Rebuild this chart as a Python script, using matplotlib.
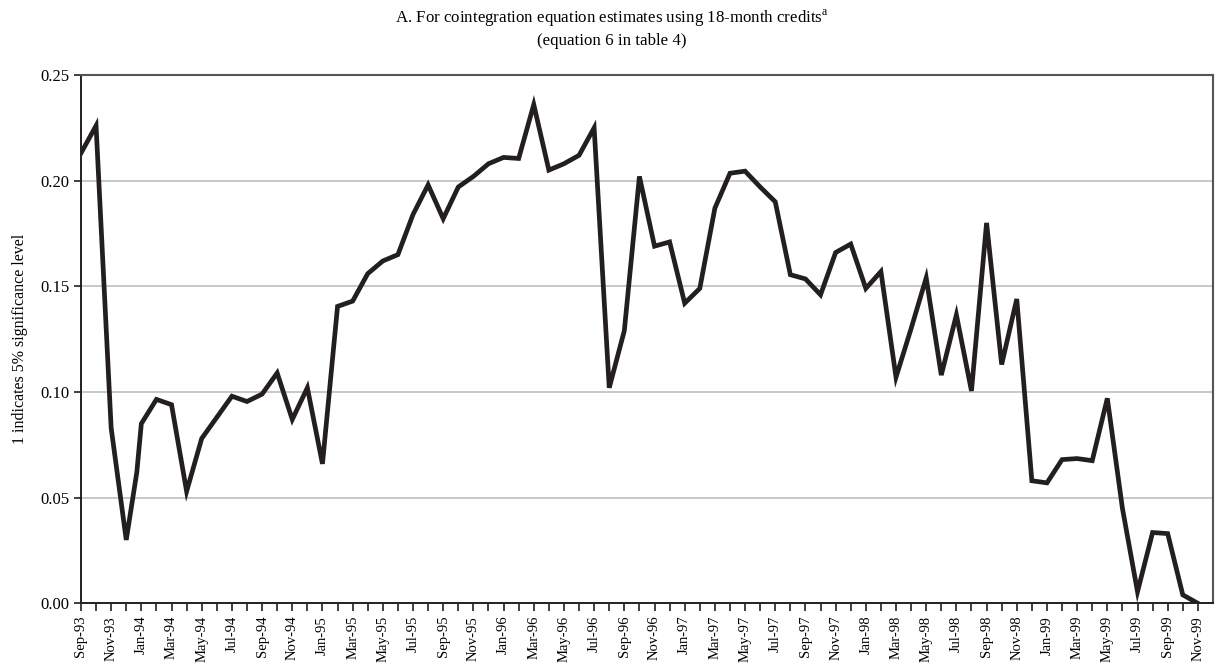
import matplotlib
matplotlib.use("Agg")
import matplotlib.pyplot as plt
import numpy as np

# months since Sep-93 (0 = Sep-93, 74 = Nov-99)
month_index = [0, 1, 2, 3, 3.7, 4, 5, 6, 7, 8, 9, 10, 11, 12, 13, 14, 15, 16, 17, 18,
               19, 20, 21, 22, 23, 24, 25, 26, 27, 28, 29, 30, 31, 32, 33, 34, 35, 36,
               37, 38, 39, 40, 41, 42, 43, 44, 45, 46, 47, 48, 49, 50, 51, 52, 53, 54,
               55, 56, 57, 58, 59, 60, 61, 62, 63, 64, 65, 66, 67, 68, 69, 70, 71, 72,
               73, 74]
values = [0.213, 0.226, 0.083, 0.030, 0.062, 0.085, 0.0965, 0.094, 0.053, 0.078,
          0.088, 0.098, 0.0955, 0.099, 0.109, 0.087, 0.102, 0.066, 0.1405, 0.143,
          0.156, 0.162, 0.165, 0.184, 0.198, 0.182, 0.197, 0.202, 0.208, 0.211,
          0.2105, 0.236, 0.205, 0.208, 0.212, 0.225, 0.102, 0.129, 0.202, 0.169,
          0.171, 0.142, 0.149, 0.187, 0.2035, 0.2045, 0.197, 0.190, 0.1555, 0.1535,
          0.146, 0.166, 0.170, 0.149, 0.157, 0.107, 0.130, 0.154, 0.108, 0.1365,
          0.1005, 0.180, 0.113, 0.144, 0.058, 0.057, 0.068, 0.0685, 0.0675, 0.097,
          0.045, 0.0055, 0.0335, 0.033, 0.004, 0.000]

tick_labels = ["Sep-93", "Nov-93", "Jan-94", "Mar-94", "May-94", "Jul-94", "Sep-94", "Nov-94",
               "Jan-95", "Mar-95", "May-95", "Jul-95", "Sep-95", "Nov-95",
               "Jan-96", "Mar-96", "May-96", "Jul-96", "Sep-96", "Nov-96",
               "Jan-97", "Mar-97", "May-97", "Jul-97", "Sep-97", "Nov-97",
               "Jan-98", "Mar-98", "May-98", "Jul-98", "Sep-98", "Nov-98",
               "Jan-99", "Mar-99", "May-99", "Jul-99", "Sep-99", "Nov-99"]
y_ticks = [0.00, 0.05, 0.10, 0.15, 0.20, 0.25]

plt.rcParams['font.family'] = ['Liberation Serif', 'DejaVu Serif']
plt.rcParams['mathtext.fontset'] = 'custom'
plt.rcParams['mathtext.rm'] = 'Liberation Serif'

fig = plt.figure(figsize=(12.23, 6.66), dpi=100)
ax = fig.add_axes([0.0662, 0.0941, 0.9256, 0.7933])

ax.plot(month_index, values, color='#231f20', linewidth=3.4, solid_joinstyle='miter', zorder=3)

ax.set_xlim(0, 75)
ax.set_ylim(0, 0.25)
ax.set_yticks(y_ticks)
ax.set_yticklabels([f"{v:.2f}" for v in y_ticks], fontsize=12)
for v in y_ticks[1:-1]:
    ax.axhline(v, color='#c4c4c4', linewidth=1.3, zorder=1)

ax.set_xticks(np.arange(0, 75, 1), minor=True)
ax.set_xticks(np.arange(0, 75, 2))
ax.set_xticklabels(tick_labels, rotation=90, fontsize=10.5)
ax.tick_params(axis='x', which='both', direction='out', length=6, width=1.2, color='#231f20', pad=3)
ax.tick_params(axis='y', direction='out', length=5, width=1.2, color='#231f20', pad=3)

ax.spines['left'].set_color('#231f20')
ax.spines['left'].set_linewidth(1.4)
ax.spines['bottom'].set_color('#231f20')
ax.spines['bottom'].set_linewidth(1.4)
ax.spines['top'].set_color('#555555')
ax.spines['top'].set_linewidth(1.5)
ax.spines['right'].set_color('#555555')
ax.spines['right'].set_linewidth(1.5)

ax.set_ylabel("1 indicates 5% significance level", fontsize=11.5, labelpad=9)

fig.text(0.5, 0.972, r"A. For cointegration equation estimates using 18-month credits$^{\mathrm{a}}$",
         ha='center', va='center', fontsize=12.2)
fig.text(0.5, 0.938, "(equation 6 in table 4)", ha='center', va='center', fontsize=12.2)

fig.savefig("out.png", dpi=100)
